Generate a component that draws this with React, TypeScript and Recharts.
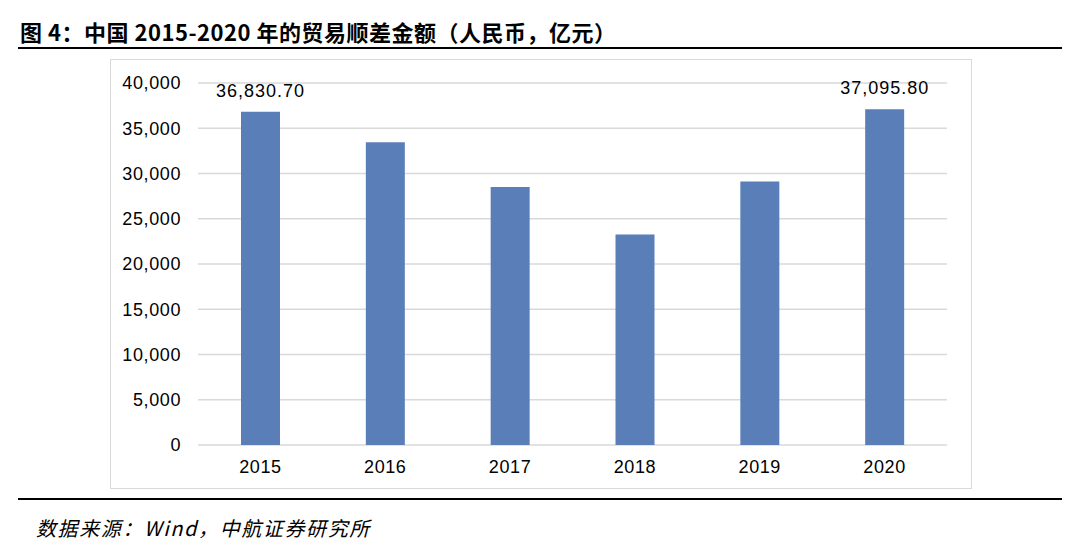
import React from "react";
import { BarChart, Bar, XAxis, YAxis, CartesianGrid, LabelList } from "recharts";

const years = ["2015", "2016", "2017", "2018", "2019", "2020"];
const surplus = [36830.7, 33452.1, 28515.7, 23247.5, 29119.6, 37095.8];
const valueLabels = ["36,830.70", "", "", "", "", "37,095.80"];
const yTicks = [0, 5000, 10000, 15000, 20000, 25000, 30000, 35000, 40000];

const title = "图 4：中国 2015-2020 年的贸易顺差金额（人民币，亿元）";
const source = "数据来源：Wind，中航证券研究所";

const data = years.map((y, i) => ({ year: y, value: surplus[i], label: valueLabels[i] }));

const fmt = (v: number) => v.toLocaleString("en-US");

const tickFont = { fontFamily: "'Liberation Sans', Arial, sans-serif", fontSize: 18, fill: "#000", letterSpacing: 0.6 };

export default function App() {
  return (
    <div style={{ position: "absolute", left: 0, top: 0, width: 1080, height: 556, background: "#fff", overflow: "hidden" }}>
      <div style={{ position: "absolute", left: 20, top: 16, fontFamily: "'Noto Sans CJK SC', sans-serif", fontWeight: 700, fontSize: 22, letterSpacing: 0.5, lineHeight: "30px", color: "#000", whiteSpace: "nowrap" }}>
        {title}
      </div>
      <div style={{ position: "absolute", left: 18, top: 47, width: 1044, height: 2, background: "#000" }} />
      <div style={{ position: "absolute", left: 110, top: 59, width: 862, height: 430, boxSizing: "border-box", border: "1px solid #d9d9d9" }}>
        <BarChart width={860} height={428} data={data} margin={{ top: 23, right: 24, left: -1, bottom: 0 }}>
          <CartesianGrid vertical={false} stroke="#d9d9d9" strokeWidth={1.5} />
          <XAxis dataKey="year" axisLine={false} tickLine={false} tickSize={0} tickMargin={15} height={43} tick={tickFont} interval={0} />
          <YAxis domain={[0, 40000]} ticks={yTicks} tickFormatter={fmt} axisLine={false} tickLine={false} tickSize={0} tickMargin={17} width={88} tick={tickFont} interval={0} />
          <Bar dataKey="value" fill="#5a7fb8" barSize={39} isAnimationActive={false}>
            <LabelList dataKey="label" position="top" offset={15} style={{ fontFamily: "'Liberation Sans', Arial, sans-serif", fontSize: 18, fill: "#000", letterSpacing: 1 }} />
          </Bar>
        </BarChart>
      </div>
      <div style={{ position: "absolute", left: 18, top: 498, width: 1044, height: 2, background: "#000" }} />
      <div style={{ position: "absolute", left: 36, top: 513, fontFamily: "'Noto Sans CJK SC', sans-serif", fontStyle: "italic", fontSize: 20, letterSpacing: 1.6, lineHeight: "30px", color: "#000", whiteSpace: "nowrap" }}>
        {source}
      </div>
    </div>
  );
}
